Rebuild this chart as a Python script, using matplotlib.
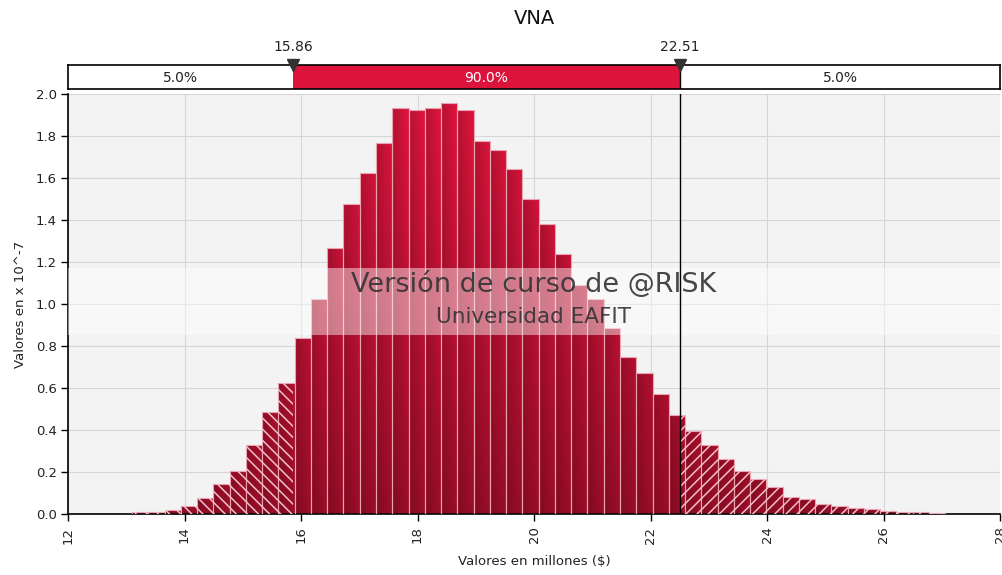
import numpy as np
import matplotlib
matplotlib.use('Agg')
import matplotlib.pyplot as plt
from matplotlib.path import Path
from matplotlib.patches import PathPatch

# histogram (values in x 10^-7)
bin_start = 13.10
bin_width = 0.2792
density = [0.008, 0.011, 0.019, 0.040, 0.078, 0.143, 0.205, 0.327, 0.487, 0.625,
           0.840, 1.022, 1.267, 1.475, 1.625, 1.765, 1.932, 1.922, 1.932, 1.959, 1.924,
           1.778, 1.733, 1.641, 1.498, 1.381, 1.236, 1.090, 1.022, 0.884, 0.749, 0.670,
           0.571, 0.473,
           0.397, 0.329, 0.260, 0.206, 0.168, 0.130, 0.083, 0.070, 0.046, 0.040, 0.030,
           0.024, 0.016, 0.011, 0.009, 0.007]
p_low, p_high = 15.86, 22.51
band_labels = ['5.0%', '90.0%', '5.0%']
x_ticks = [12, 14, 16, 18, 20, 22, 24, 26, 28]
y_ticks = [0.0, 0.2, 0.4, 0.6, 0.8, 1.0, 1.2, 1.4, 1.6, 1.8, 2.0]

plt.rcParams['font.family'] = ['DejaVu Sans']
plt.rcParams['hatch.linewidth'] = 1.1
plt.rcParams['hatch.color'] = '#f2bfca'

density = np.array(density)
n = len(density)
edges = bin_start + bin_width * np.arange(n + 1)
lefts = edges[:-1]

W, H = 1002, 575
fig = plt.figure(figsize=(W / 100, H / 100), dpi=100)
ax = fig.add_axes([68 / W, 61 / H, 932 / W, 420 / H])
ax.set_facecolor('#f3f3f3')

# gradient fill for the bars (vertical darkening + per-bar shading)
nx_per = 20
xs = bin_start + (np.arange(n * nx_per) + 0.5) * bin_width / nx_per
ys = np.linspace(0, 2, 200)
frac = ((xs - bin_start) / bin_width) % 1.0
shade = 0.86 + 0.20 * frac
bottom_c = np.array([0.58, 0.05, 0.15])
top_c = np.array([0.84, 0.08, 0.23])
t = (ys / 2.0)[:, None, None]
img = bottom_c + (top_c - bottom_c) * t
img = img * shade[None, :, None]
img = np.clip(img, 0, 1)
im = ax.imshow(img, extent=[edges[0], edges[-1], 0, 2], origin='lower',
               aspect='auto', interpolation='nearest', zorder=2)
rects = [Path([(l, 0), (l + bin_width, 0), (l + bin_width, h), (l, h), (l, 0)],
              closed=True) for l, h in zip(lefts, density)]
clip = PathPatch(Path.make_compound_path(*rects), transform=ax.transData)
im.set_clip_path(clip)

# bar outlines
ax.bar(lefts, density, width=bin_width, align='edge', facecolor='none',
       edgecolor='#e9a3b1', linewidth=0.8, zorder=3)

# hatched tails
lo_mask = lefts < p_low
lo_w = np.minimum(lefts + bin_width, p_low) - lefts
ax.bar(lefts[lo_mask], density[lo_mask], width=lo_w[lo_mask], align='edge',
       facecolor='none', edgecolor='#f2bfca', linewidth=0, hatch='\\\\\\', zorder=3)
hi_mask = lefts + bin_width > p_high
hi_l = np.maximum(lefts, p_high)
hi_w = lefts + bin_width - hi_l
ax.bar(hi_l[hi_mask], density[hi_mask], width=hi_w[hi_mask], align='edge',
       facecolor='none', edgecolor='#f2bfca', linewidth=0, hatch='///', zorder=3)

ax.axvline(p_high, color='black', linewidth=1, zorder=6)

# watermark
ax.axhspan(0.852, 1.171, color='white', alpha=0.45, linewidth=0, zorder=4)
ax.text(0.5, 0.546, 'Versión de curso de @RISK', transform=ax.transAxes,
        ha='center', va='center', fontsize=19.5, color='#333333', alpha=0.9, zorder=5)
ax.text(0.5, 0.468, 'Universidad EAFIT', transform=ax.transAxes,
        ha='center', va='center', fontsize=15.5, color='#333333', alpha=0.9, zorder=5)

ax.set_xlim(12, 28)
ax.set_ylim(0, 2.0)
ax.set_xticks(x_ticks)
ax.set_yticks(y_ticks)
ax.set_xticklabels([str(v) for v in x_ticks], rotation=90)
ax.set_yticklabels([f'{v:.1f}' for v in y_ticks])
ax.tick_params(axis='both', labelsize=9.5, length=5, width=1, color='black',
               labelcolor='#222222')
ax.tick_params(axis='x', pad=4)
ax.tick_params(axis='y', pad=3)
ax.grid(True, color='#d6d6d6', linewidth=0.8)
ax.set_axisbelow(True)
for s in ['top', 'right']:
    ax.spines[s].set_visible(False)
for s in ['left', 'bottom']:
    ax.spines[s].set_linewidth(1.2)
ax.set_xlabel('Valores en millones ($)', fontsize=9.5, color='#222222', labelpad=8)
ax.set_ylabel('Valores en x 10^-7', fontsize=9.5, color='#222222', labelpad=6)

# percentile band on top
bax = fig.add_axes([68 / W, (H - 89) / H, 932 / W, 24 / H])
bax.set_xlim(12, 28)
bax.set_ylim(0, 1)
bax.set_facecolor('white')
bax.axvspan(p_low, p_high, color='#dc143c', linewidth=0)
bax.axvline(p_high, color='black', linewidth=1)
bax.set_xticks([])
bax.set_yticks([])
for s in bax.spines.values():
    s.set_linewidth(1.2)
centers = [(12 + p_low) / 2, (p_low + p_high) / 2, (p_high + 28) / 2]
colors = ['#222222', 'white', '#222222']
for cx, lab, c in zip(centers, band_labels, colors):
    bax.text(cx, 0.45, lab, ha='center', va='center', fontsize=10, color=c)
for p in [p_low, p_high]:
    bax.plot([p], [1.0], marker='v', color='#333333', markersize=8, clip_on=False, zorder=5)
    bax.annotate(f'{p:.2f}', xy=(p, 1.0), xytext=(0, 8), textcoords='offset points',
                 ha='center', va='bottom', fontsize=10, color='#222222')

fig.text(534 / W, 1 - 18 / H, 'VNA', ha='center', va='center', fontsize=14, color='#111111')

fig.savefig('out.png', dpi=100)
